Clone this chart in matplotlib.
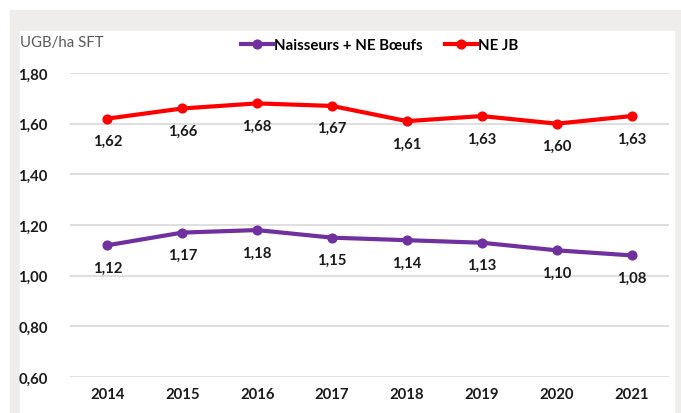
import matplotlib.pyplot as plt
from matplotlib.patches import Rectangle

years = ["2014", "2015", "2016", "2017", "2018", "2019", "2020", "2021"]
naisseurs = [1.12, 1.17, 1.18, 1.15, 1.14, 1.13, 1.10, 1.08]
ne_jb = [1.62, 1.66, 1.68, 1.67, 1.61, 1.63, 1.60, 1.63]
yticks = [0.60, 0.80, 1.00, 1.20, 1.40, 1.60, 1.80]

plt.rcParams["font.family"] = ["Lato", "DejaVu Sans"]

W, H = 681, 414
fig = plt.figure(figsize=(W / 100, H / 100), dpi=100)

# grey frame and white panel
fig.patches.append(Rectangle((10 / W, 0), 1 - 10 / W, 1 - 11 / H,
                             transform=fig.transFigure, color="#eeedeb", zorder=-2))
fig.patches.append(Rectangle((20 / W, 0), (674 - 20) / W, 1 - 32 / H,
                             transform=fig.transFigure, color="white", zorder=-1))

ax = fig.add_axes([70 / W, 1 - 378 / H, (669 - 70) / W, (378 - 74) / H])
ax.patch.set_alpha(0)

x = range(len(years))
l1, = ax.plot(x, naisseurs, color="#7030a0", lw=3, marker="o", ms=6.3,
              label="Naisseurs + NE Bœufs", zorder=3)
l2, = ax.plot(x, ne_jb, color="#ff0000", lw=3, marker="o", ms=6.3,
              label="NE JB", zorder=3)

for series in (naisseurs, ne_jb):
    for i, v in enumerate(series):
        ax.annotate(f"{v:.2f}".replace(".", ","), (i, v), xytext=(0, -11),
                    textcoords="offset points", ha="center", va="top",
                    fontsize=10.7, fontweight="bold", color="#1a1a1a")

ax.set_xlim(-0.5, len(years) - 0.5)
ax.set_ylim(0.6, 1.8)
ax.set_xticks(list(x))
ax.set_xticklabels(years, fontsize=10.7, fontweight="bold", color="#1a1a1a")
ax.set_yticks(yticks)
ax.set_yticklabels([f"{t:.2f}".replace(".", ",") for t in yticks],
                   fontsize=10.7, fontweight="bold", color="#1a1a1a")
ax.tick_params(length=0, pad=7)
ax.tick_params(axis="y", pad=16)
ax.grid(axis="y", color="#d9d9d9", lw=1.2)
ax.set_axisbelow(True)
for s in ax.spines.values():
    s.set_visible(False)

fig.text(20 / W, 1 - 43 / H, "UGB/ha SFT", fontsize=10.8, color="#595959",
         ha="left", va="center")

fig.legend(handles=[l1, l2], loc="center", bbox_to_anchor=(380 / W, 1 - 46 / H),
           ncol=2, frameon=False, handlelength=2.1,
           handletextpad=0.1, columnspacing=1.5,
           prop={"weight": "bold", "size": 10.8})

fig.savefig("out.png", dpi=100)
